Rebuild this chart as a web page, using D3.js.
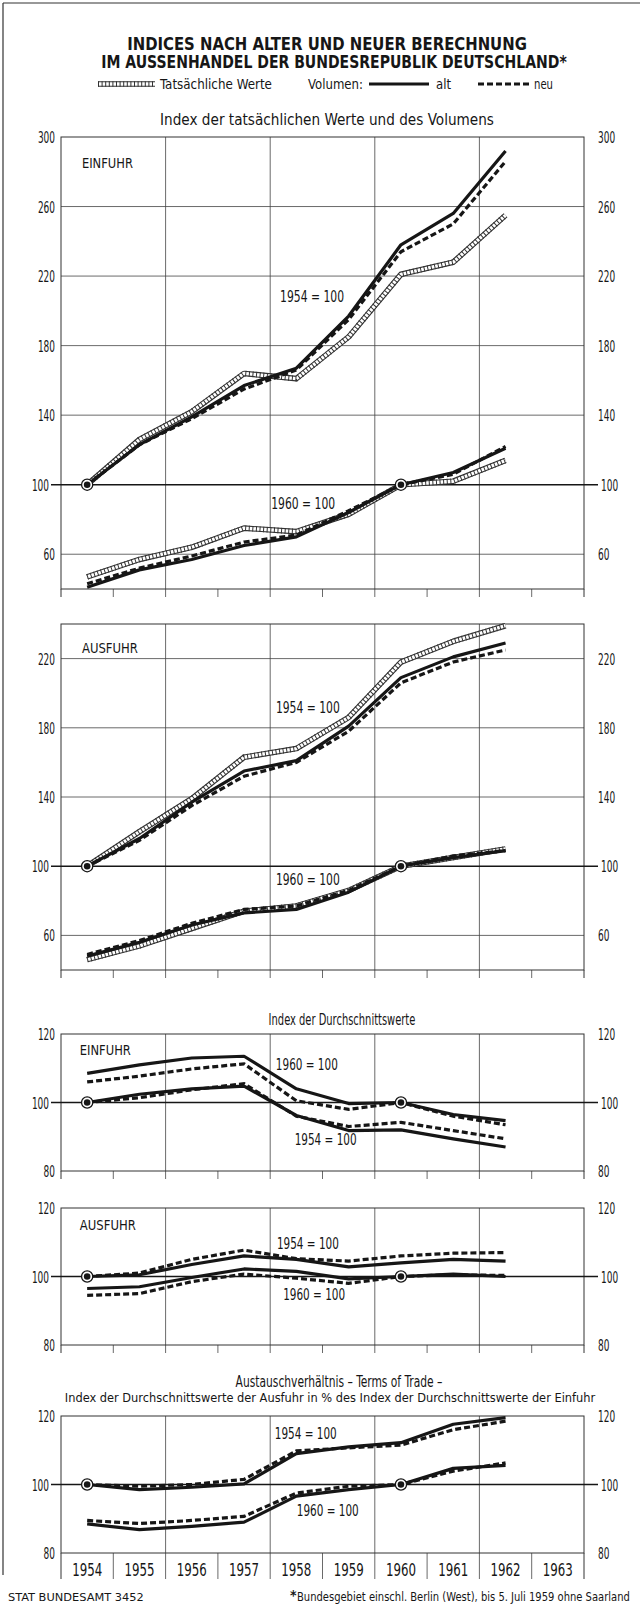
<!DOCTYPE html>
<html>
<head>
<meta charset="utf-8">
<script src="https://cdn.jsdelivr.net/npm/d3@7"></script>
<style>
    body { margin: 0; background: #fff; }
    svg { display: block; }
</style>
</head>
<body>
<script>
"use strict";

// years with data and years on the axis
const years = [1954, 1955, 1956, 1957, 1958, 1959, 1960, 1961, 1962];
const axisYears = [1954, 1955, 1956, 1957, 1958, 1959, 1960, 1961, 1962, 1963];

// Index der tatsaechlichen Werte und des Volumens - Einfuhr
const einfuhrWert54 = [100, 126, 142, 164, 161, 185, 221, 228, 255];
const einfuhrAlt54  = [100, 123, 139, 157, 167, 197, 238, 256, 292];
const einfuhrNeu54  = [100, 123, 138, 155, 166, 195, 234, 250, 286];
const einfuhrWert60 = [47, 57, 64, 75, 73, 83, 100, 102, 114];
const einfuhrAlt60  = [41, 51, 57, 65, 70, 84, 100, 107, 121];
const einfuhrNeu60  = [43, 52, 59, 67, 71, 85, 100, 106, 122];

// Index der tatsaechlichen Werte und des Volumens - Ausfuhr
const ausfuhrWert54 = [100, 120, 139, 163, 168, 186, 218, 230, 239];
const ausfuhrAlt54  = [100, 116, 137, 155, 161, 181, 209, 221, 229];
const ausfuhrNeu54  = [100, 115, 135, 152, 160, 178, 206, 218, 225];
const ausfuhrWert60 = [46, 54, 64, 74, 77, 86, 100, 105, 110];
const ausfuhrAlt60  = [48, 56, 66, 73, 75, 85, 100, 105, 109];
const ausfuhrNeu60  = [49, 57, 67, 75, 77, 86, 100, 106, 109];

// Index der Durchschnittswerte - Einfuhr
const einDurchAlt60 = [108.5, 111, 113, 113.5, 104, 99.7, 100, 96.5, 94.7];
const einDurchNeu60 = [106, 107.7, 109.8, 111.3, 100.5, 98, 100, 96, 93.5];
const einDurchAlt54 = [100, 102.4, 104, 104.8, 96.2, 91.8, 92, 89.4, 87];
const einDurchNeu54 = [100, 101.4, 103.7, 105.5, 96, 93, 94.2, 91.8, 89.4];

// Index der Durchschnittswerte - Ausfuhr
const ausDurchAlt54 = [100, 100.5, 103.5, 106, 105, 102.8, 104, 105, 104.5];
const ausDurchNeu54 = [100, 101, 105, 107.7, 105.2, 104.5, 106, 106.8, 107];
const ausDurchAlt60 = [96.5, 97, 99.7, 102.2, 101.5, 99.3, 100, 100.7, 100];
const ausDurchNeu60 = [94.5, 95, 98.5, 100.7, 99.5, 98, 100, 100.5, 100.3];

// Austauschverhaeltnis - Terms of Trade
const termsAlt54 = [100, 98.5, 99.2, 100.2, 109, 111, 112.2, 117.6, 119.5];
const termsNeu54 = [100, 99.5, 100, 101.5, 109.8, 110.7, 111.5, 116, 118.5];
const termsAlt60 = [88.5, 86.8, 87.8, 89, 96.6, 98.5, 100, 104.7, 105.6];
const termsNeu60 = [89.5, 88.6, 89.5, 90.7, 97.5, 99.5, 100, 103.9, 106.3];

// tick labels
const ticksEinfuhr = [60, 100, 140, 180, 220, 260, 300];
const ticksAusfuhr = [60, 100, 140, 180, 220];
const ticksDurch = [80, 100, 120];

(function(){
    const measurements = {
        width: 640,
        height: 1609,
        left: 61,
        right: 584
    }
    const font = "'Liberation Sans Narrow','DejaVu Sans Condensed','Roboto Condensed','Liberation Sans',sans-serif";
    const ink = "#161616";

    let svgContainer = d3.select("body").append("svg")
        .attr("width", measurements.width)
        .attr("height", measurements.height)
        .style("font-family", font);

    const scaleX = d3.scaleBand()
        .domain(axisYears)
        .range([measurements.left, measurements.right]);
    const bw = scaleX.bandwidth();
    const xMid = (yr) => scaleX(yr) + bw / 2;
    const xUnit = (u) => measurements.left + u * bw;

    // text squeezed sideways to a given width (condensed look)
    function addText(g, str, x, y, size, width, anchor, weight) {
        let t = g.append("text")
            .attr("x", 0)
            .attr("y", 0)
            .attr("fill", ink)
            .attr("font-size", size)
            .attr("text-anchor", anchor || "start")
            .attr("font-weight", weight || "normal")
            .text(str);
        let sx = 1;
        if (width) {
            sx = width / t.node().getComputedTextLength();
        }
        t.attr("transform", "translate(" + x + "," + y + ") scale(" + sx + ",1)");
        return t;
    }

    // three line styles
    function drawLine(g, d, kind) {
        if (kind === "wert") {
            g.append("path").attr("d", d).attr("fill", "none")
                .attr("stroke", "#333").attr("stroke-width", 5.6).attr("stroke-linejoin", "round");
            g.append("path").attr("d", d).attr("fill", "none")
                .attr("stroke", "#fff").attr("stroke-width", 3.4).attr("stroke-linejoin", "round");
            g.append("path").attr("d", d).attr("fill", "none")
                .attr("stroke", "#333").attr("stroke-width", 5.6)
                .attr("stroke-dasharray", "1,2.6");
        } else if (kind === "alt") {
            g.append("path").attr("d", d).attr("fill", "none")
                .attr("stroke", ink).attr("stroke-width", 3.2).attr("stroke-linejoin", "round");
        } else {
            g.append("path").attr("d", d).attr("fill", "none")
                .attr("stroke", ink).attr("stroke-width", 3.2)
                .attr("stroke-dasharray", "6,3");
        }
    }

    function drawMarker(g, x, y) {
        g.append("circle").attr("cx", x).attr("cy", y).attr("r", 5.6)
            .attr("fill", "#fff").attr("stroke", ink).attr("stroke-width", 1.3);
        g.append("circle").attr("cx", x).attr("cy", y).attr("r", 3.3)
            .attr("fill", ink);
    }

    function drawPanel(p) {
        const g = svgContainer.append("g");
        const L = measurements.left, R = measurements.right;
        const scaleY = d3.scaleLinear()
            .domain(p.domain)
            .range([p.bottom, p.top]);

        // horizontal grid
        g.selectAll(".hgrid")
            .data(p.ticks.filter((t) => t !== 100 && t > p.domain[0] && t < p.domain[1]))
            .enter()
            .append("line")
            .attr("x1", L).attr("x2", R)
            .attr("y1", (d) => scaleY(d)).attr("y2", (d) => scaleY(d))
            .attr("stroke", "#444").attr("stroke-width", 0.8);

        // vertical grid every two years, ticks in between
        const tickLen = p.yearLabels ? 26 : 8;
        g.selectAll(".vgrid")
            .data(axisYears.filter((yr) => yr % 2 === 0 && yr !== 1954))
            .enter()
            .append("line")
            .attr("x1", (d) => scaleX(d)).attr("x2", (d) => scaleX(d))
            .attr("y1", p.top).attr("y2", p.bottom + tickLen)
            .attr("stroke", "#444").attr("stroke-width", 0.8);
        g.selectAll(".vtick")
            .data(axisYears.filter((yr) => yr % 2 === 1))
            .enter()
            .append("line")
            .attr("x1", (d) => scaleX(d)).attr("x2", (d) => scaleX(d))
            .attr("y1", p.bottom).attr("y2", p.bottom + tickLen)
            .attr("stroke", "#444").attr("stroke-width", 0.8);

        // frame
        g.append("rect")
            .attr("x", L).attr("y", p.top)
            .attr("width", R - L).attr("height", p.bottom - p.top)
            .attr("fill", "none").attr("stroke", "#333").attr("stroke-width", 1);
        g.append("line").attr("x1", L).attr("x2", L)
            .attr("y1", p.bottom).attr("y2", p.bottom + tickLen)
            .attr("stroke", "#333").attr("stroke-width", 1);
        g.append("line").attr("x1", R).attr("x2", R)
            .attr("y1", p.bottom).attr("y2", p.bottom + tickLen)
            .attr("stroke", "#333").attr("stroke-width", 1);

        // 100 line, a bit longer
        g.append("line")
            .attr("x1", L - 10).attr("x2", R + 14)
            .attr("y1", scaleY(100)).attr("y2", scaleY(100))
            .attr("stroke", ink).attr("stroke-width", 1.6);

        // axes left and right
        const axisL = g.append("g")
            .attr("transform", "translate(" + L + ",0)")
            .call(d3.axisLeft(scaleY).tickValues(p.ticks).tickSize(0).tickPadding(6));
        const axisR = g.append("g")
            .attr("transform", "translate(" + R + ",0)")
            .call(d3.axisRight(scaleY).tickValues(p.ticks).tickSize(0).tickPadding(14));
        [axisL, axisR].forEach((ax) => {
            ax.select(".domain").remove();
            ax.attr("font-family", font).attr("font-size", 15.5);
            ax.selectAll("text")
                .attr("fill", ink)
                .attr("dy", "0.36em")
                .attr("textLength", (d) => String(d).length * 5.7)
                .attr("lengthAdjust", "spacingAndGlyphs");
        });
        axisL.selectAll("text").filter((d) => d === 100).attr("x", -12);
        axisR.selectAll("text").filter((d) => d === 100).attr("x", 17);

        // series
        const line = d3.line()
            .x((d, i) => xMid(years[i]))
            .y((d) => scaleY(d));
        p.series.forEach((s) => drawLine(g, line(s.values), s.kind));

        // base year markers
        drawMarker(g, xMid(1954), scaleY(100));
        drawMarker(g, xMid(1960), scaleY(100));

        // labels inside the panel
        p.labels.forEach((lab) => {
            addText(g, lab.text, xUnit(lab.u), scaleY(lab.v), lab.size, lab.w, lab.anchor);
        });

        // year labels below last panel
        if (p.yearLabels) {
            g.selectAll(".year")
                .data(axisYears)
                .enter()
                .append("text")
                .attr("x", (d) => xMid(d))
                .attr("y", p.bottom + 23)
                .attr("text-anchor", "middle")
                .attr("font-size", 18)
                .attr("fill", ink)
                .attr("textLength", 30)
                .attr("lengthAdjust", "spacingAndGlyphs")
                .text((d) => d);
        }
    }

    // outer border of the sheet
    svgContainer.append("line").attr("x1", 3).attr("x2", 640).attr("y1", 3).attr("y2", 3)
        .attr("stroke", "#333").attr("stroke-width", 1.2);
    svgContainer.append("line").attr("x1", 3).attr("x2", 3).attr("y1", 3).attr("y2", 1575)
        .attr("stroke", "#333").attr("stroke-width", 1.2);

    // title and legend
    const head = svgContainer.append("g");
    addText(head, "INDICES NACH ALTER UND NEUER BERECHNUNG", 327, 49.5, 17.5, 400, "middle", "bold");
    addText(head, "IM AUSSENHANDEL DER BUNDESREPUBLIK DEUTSCHLAND*", 334, 68, 17.5, 466, "middle", "bold");

    drawLine(head, d3.line()([[98, 84], [155, 84]]), "wert");
    addText(head, "Tatsächliche Werte", 160, 89, 14.5, 112);
    addText(head, "Volumen:", 308, 89, 14.5, 55);
    drawLine(head, d3.line()([[369, 84], [429, 84]]), "alt");
    addText(head, "alt", 436, 89, 14.5, 15);
    drawLine(head, d3.line()([[478, 84], [529, 84]]), "neu");
    addText(head, "neu", 534, 89, 14.5, 19);

    addText(head, "Index der tatsächlichen Werte und des Volumens", 327, 125, 16.5, 334, "middle");
    addText(head, "Index der Durchschnittswerte", 342, 1025, 16.5, 147, "middle");
    addText(head, "Austauschverhältnis \u2013 Terms of Trade \u2013", 339, 1387, 16.5, 207, "middle");
    addText(head, "Index der Durchschnittswerte der Ausfuhr in % des Index der Durchschnittswerte der Einfuhr",
        330, 1402, 12.5, 531, "middle");

    // panels
    drawPanel({
        domain: [40, 300], top: 137, bottom: 589, ticks: ticksEinfuhr,
        series: [
            {values: einfuhrWert54, kind: "wert"}, {values: einfuhrAlt54, kind: "alt"}, {values: einfuhrNeu54, kind: "neu"},
            {values: einfuhrWert60, kind: "wert"}, {values: einfuhrAlt60, kind: "alt"}, {values: einfuhrNeu60, kind: "neu"}
        ],
        labels: [
            {text: "EINFUHR", u: 0.4, v: 282, size: 14, w: 51},
            {text: "1954 = 100", u: 4.8, v: 205, size: 15, w: 64, anchor: "middle"},
            {text: "1960 = 100", u: 4.63, v: 86, size: 15, w: 64, anchor: "middle"}
        ]
    });
    drawPanel({
        domain: [40, 240], top: 624, bottom: 970, ticks: ticksAusfuhr,
        series: [
            {values: ausfuhrWert54, kind: "wert"}, {values: ausfuhrAlt54, kind: "alt"}, {values: ausfuhrNeu54, kind: "neu"},
            {values: ausfuhrWert60, kind: "wert"}, {values: ausfuhrAlt60, kind: "alt"}, {values: ausfuhrNeu60, kind: "neu"}
        ],
        labels: [
            {text: "AUSFUHR", u: 0.4, v: 223, size: 14, w: 56},
            {text: "1954 = 100", u: 4.72, v: 188.5, size: 15, w: 64, anchor: "middle"},
            {text: "1960 = 100", u: 4.72, v: 89, size: 15, w: 64, anchor: "middle"}
        ]
    });
    drawPanel({
        domain: [80, 120], top: 1034, bottom: 1171, ticks: ticksDurch,
        series: [
            {values: einDurchAlt60, kind: "alt"}, {values: einDurchNeu60, kind: "neu"},
            {values: einDurchAlt54, kind: "alt"}, {values: einDurchNeu54, kind: "neu"}
        ],
        labels: [
            {text: "EINFUHR", u: 0.36, v: 113.8, size: 14, w: 51},
            {text: "1960 = 100", u: 4.7, v: 109.6, size: 15, w: 62, anchor: "middle"},
            {text: "1954 = 100", u: 5.06, v: 87.6, size: 15, w: 62, anchor: "middle"}
        ]
    });
    drawPanel({
        domain: [80, 120], top: 1208, bottom: 1345, ticks: ticksDurch,
        series: [
            {values: ausDurchAlt54, kind: "alt"}, {values: ausDurchNeu54, kind: "neu"},
            {values: ausDurchAlt60, kind: "alt"}, {values: ausDurchNeu60, kind: "neu"}
        ],
        labels: [
            {text: "AUSFUHR", u: 0.36, v: 113.5, size: 14, w: 56},
            {text: "1954 = 100", u: 4.72, v: 108, size: 15, w: 62, anchor: "middle"},
            {text: "1960 = 100", u: 4.84, v: 93.2, size: 15, w: 62, anchor: "middle"}
        ]
    });
    drawPanel({
        domain: [80, 120], top: 1416, bottom: 1553, ticks: ticksDurch, yearLabels: true,
        series: [
            {values: termsAlt54, kind: "alt"}, {values: termsNeu54, kind: "neu"},
            {values: termsAlt60, kind: "alt"}, {values: termsNeu60, kind: "neu"}
        ],
        labels: [
            {text: "1954 = 100", u: 4.68, v: 113.2, size: 15, w: 62, anchor: "middle"},
            {text: "1960 = 100", u: 5.1, v: 90.9, size: 15, w: 62, anchor: "middle"}
        ]
    });

    // footer
    addText(head, "STAT BUNDESAMT 3452", 8, 1601, 10.5, 136);
    addText(head, "*", 290, 1600, 14, null, "start", "bold");
    addText(head, "Bundesgebiet einschl. Berlin (West), bis 5. Juli 1959 ohne Saarland", 297, 1601, 12, 333);
})()
</script>
</body>
</html>
